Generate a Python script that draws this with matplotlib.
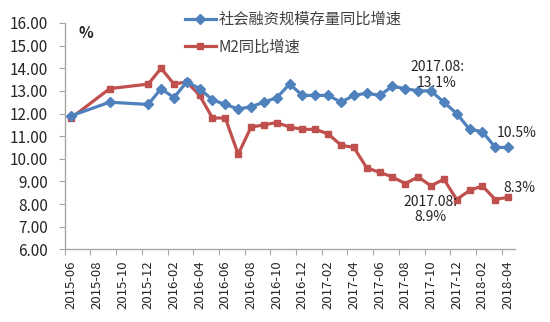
import numpy as np
import matplotlib
matplotlib.use("Agg")
import matplotlib.pyplot as plt

plt.rcParams['font.family'] = ['Noto Sans CJK SC', 'DejaVu Sans']

# monthly category axis 2015-06 .. 2018-04
months = ['2015-06', '2015-07', '2015-08', '2015-09', '2015-10', '2015-11', '2015-12',
          '2016-01', '2016-02', '2016-03', '2016-04', '2016-05', '2016-06', '2016-07',
          '2016-08', '2016-09', '2016-10', '2016-11', '2016-12', '2017-01', '2017-02',
          '2017-03', '2017-04', '2017-05', '2017-06', '2017-07', '2017-08', '2017-09',
          '2017-10', '2017-11', '2017-12', '2018-01', '2018-02', '2018-03', '2018-04']

# months with data (quarterly in 2015, monthly afterwards)
data_months = ['2015-06', '2015-09', '2015-12',
               '2016-01', '2016-02', '2016-03', '2016-04', '2016-05', '2016-06',
               '2016-07', '2016-08', '2016-09', '2016-10', '2016-11', '2016-12',
               '2017-01', '2017-02', '2017-03', '2017-04', '2017-05', '2017-06',
               '2017-07', '2017-08', '2017-09', '2017-10', '2017-11', '2017-12',
               '2018-01', '2018-02', '2018-03', '2018-04']

tsf_growth = [11.9, 12.5, 12.4,
              13.1, 12.7, 13.4, 13.1, 12.6, 12.4,
              12.2, 12.3, 12.5, 12.7, 13.3, 12.8,
              12.8, 12.8, 12.5, 12.8, 12.9, 12.8,
              13.2, 13.1, 13.0, 13.0, 12.5, 12.0,
              11.3, 11.2, 10.5, 10.5]

m2_growth = [11.8, 13.1, 13.3,
             14.0, 13.3, 13.4, 12.8, 11.8, 11.8,
             10.2, 11.4, 11.5, 11.6, 11.4, 11.3,
             11.3, 11.1, 10.6, 10.5, 9.6, 9.4,
             9.2, 8.9, 9.2, 8.8, 9.1, 8.2,
             8.6, 8.8, 8.2, 8.3]

tsf_label = '社会融资规模存量同比增速'
m2_label = 'M2同比增速'

blue = '#4F81BD'
red = '#C0504D'
axis_gray = '#A6A6A6'
text_col = '#262626'

x = np.array([months.index(m) for m in data_months])

fig = plt.figure(figsize=(5.5, 3.22), dpi=100)
ax = fig.add_axes([0.1176, 0.2258, 0.8179, 0.7028])

ax.plot(x, tsf_growth, color=blue, lw=2.3, marker='D', ms=5, label=tsf_label, zorder=3)
ax.plot(x, m2_growth, color=red, lw=2.3, marker='s', ms=5, label=m2_label, zorder=2)

ax.set_xlim(-0.5, len(months) - 0.5)
ax.set_ylim(6, 16)
ax.set_yticks(np.arange(6, 16.01, 1))
ax.set_yticklabels(['%.2f' % v for v in np.arange(6, 16.01, 1)], fontsize=11, color=text_col)

# tick marks sit between categories, labels on every second month
ax.set_xticks(np.arange(-0.5, len(months) - 1, 2))
ax.set_xticklabels([])
ax.set_xticks(np.arange(0, len(months), 2), minor=True)
ax.set_xticklabels(months[::2], minor=True, rotation=90, fontsize=9.5, color=text_col)
ax.tick_params(axis='x', which='minor', length=0, pad=8)
ax.tick_params(axis='x', which='major', length=4, color=axis_gray, direction='out')
ax.tick_params(axis='y', length=4, color=axis_gray, direction='out', pad=8)

for s in ['top', 'right']:
    ax.spines[s].set_visible(False)
for s in ['left', 'bottom']:
    ax.spines[s].set_color(axis_gray)
    ax.spines[s].set_linewidth(1.0)

ax.text(0.03, 0.955, '%', transform=ax.transAxes, fontsize=11, fontweight='bold',
        color=text_col, ha='left', va='center')

# annotations
ax.text(28.47, 13.70, '2017.08:\n13.1%', fontsize=10, color=text_col, ha='center',
        va='center', linespacing=1.1)
ax.text(34.7, 11.14, '10.5%', fontsize=10, color=text_col, ha='center', va='center')
ax.text(34.9, 8.71, '8.3%', fontsize=10, color=text_col, ha='center', va='center')
ax.text(27.93, 7.76, '2017.08:\n8.9%', fontsize=10, color=text_col, ha='center',
        va='center', linespacing=1.1)

leg = ax.legend(loc='upper left', bbox_to_anchor=(185 / 550, 1 - 11 / 322),
                bbox_transform=fig.transFigure, frameon=False, fontsize=11,
                handlelength=2.0, handletextpad=0.2, labelspacing=0.7,
                borderpad=0, borderaxespad=0)
for t in leg.get_texts():
    t.set_color('#404040')

fig.savefig('out.png', dpi=100)
